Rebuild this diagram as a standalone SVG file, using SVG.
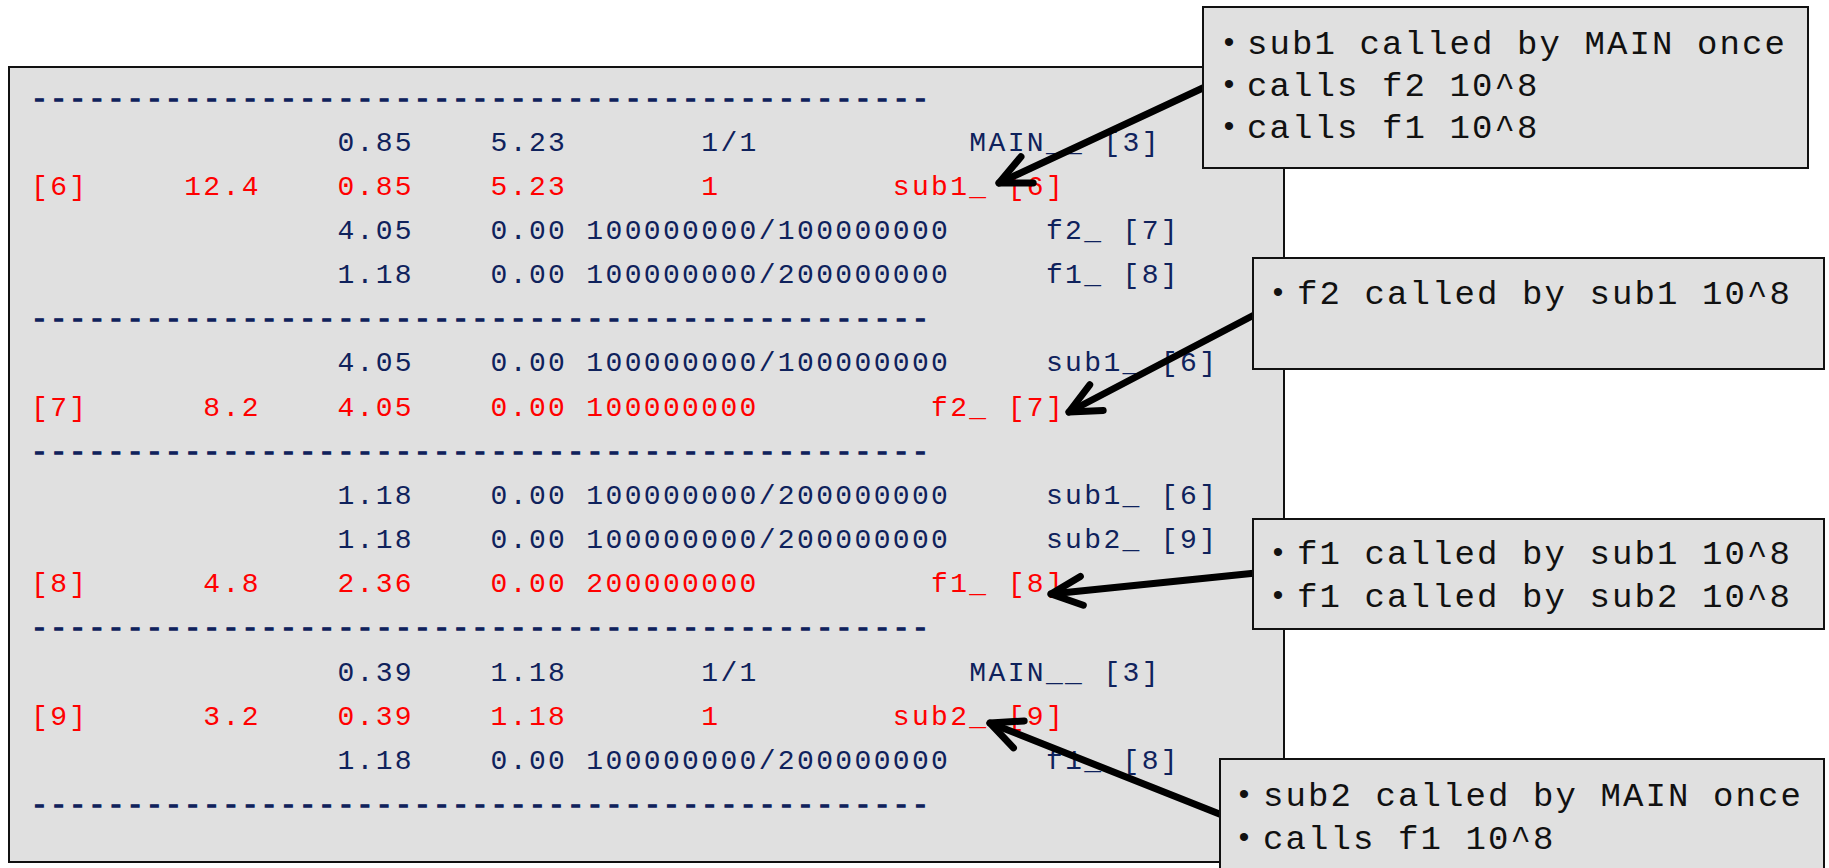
<svg xmlns="http://www.w3.org/2000/svg" width="1829" height="868" viewBox="0 0 1829 868">
  <style>
    .panel { fill: #e0e0e0; stroke: #111; stroke-width: 2; }
    .mono { font-family: "Liberation Mono", "DejaVu Sans Mono", monospace; font-size: 28px; letter-spacing: 2.35px; }
    .nv { fill: #0f225c; }
    .rd { fill: #ff0000; }
    .rule { stroke: #0f225c; stroke-width: 1.3px; }
    .note { font-family: "Liberation Mono", "DejaVu Sans Mono", monospace; font-size: 34px; letter-spacing: 2.1px; fill: #111; }
    .bul { font-family: "Liberation Sans", Arial, sans-serif; font-size: 30px; fill: #111; text-anchor: middle; }
    .arrow { fill: none; stroke: #000; stroke-width: 7; stroke-linecap: round; stroke-linejoin: round; }
  </style>
  <defs>
    <marker id="chevron" markerUnits="userSpaceOnUse" orient="auto" refX="0" refY="0" markerWidth="80" markerHeight="80" viewBox="-40 -40 80 80" overflow="visible">
      <path d="M-31,-14.5 L0,0 L-31,14.5" fill="none" stroke="#000" stroke-width="7" stroke-linecap="round" stroke-linejoin="round"/>
    </marker>
  </defs>

  <rect width="1829" height="868" fill="#fff"/>

  <!-- gprof call-graph listing; columns at x = 31 + 19.15 * col -->
  <g id="callgraph">
    <rect class="panel" x="9" y="67" width="1275" height="795"/>
    <g class="mono">
      <text class="nv rule" x="31" y="106.5">-----------------------------------------------</text>

      <text class="nv" y="150.6"><tspan x="337.4">0.85</tspan><tspan x="490.6">5.23</tspan><tspan x="701.25">1/1</tspan><tspan x="969.35">MAIN__</tspan><tspan x="1103.4">[3]</tspan></text>
      <text class="rd" y="194.8"><tspan x="31">[6]</tspan><tspan x="184.2">12.4</tspan><tspan x="337.4">0.85</tspan><tspan x="490.6">5.23</tspan><tspan x="701.25">1</tspan><tspan x="892.75">sub1_</tspan><tspan x="1007.65">[6]</tspan></text>
      <text class="nv" y="239"><tspan x="337.4">4.05</tspan><tspan x="490.6">0.00</tspan><tspan x="586.35">100000000/100000000</tspan><tspan x="1045.95">f2_</tspan><tspan x="1122.55">[7]</tspan></text>
      <text class="nv" y="283.1"><tspan x="337.4">1.18</tspan><tspan x="490.6">0.00</tspan><tspan x="586.35">100000000/200000000</tspan><tspan x="1045.95">f1_</tspan><tspan x="1122.55">[8]</tspan></text>

      <text class="nv rule" x="31" y="327.3">-----------------------------------------------</text>

      <text class="nv" y="371.4"><tspan x="337.4">4.05</tspan><tspan x="490.6">0.00</tspan><tspan x="586.35">100000000/100000000</tspan><tspan x="1045.95">sub1_</tspan><tspan x="1160.85">[6]</tspan></text>
      <text class="rd" y="415.6"><tspan x="31">[7]</tspan><tspan x="203.35">8.2</tspan><tspan x="337.4">4.05</tspan><tspan x="490.6">0.00</tspan><tspan x="586.35">100000000</tspan><tspan x="931.05">f2_</tspan><tspan x="1007.65">[7]</tspan></text>

      <text class="nv rule" x="31" y="459.7">-----------------------------------------------</text>

      <text class="nv" y="503.9"><tspan x="337.4">1.18</tspan><tspan x="490.6">0.00</tspan><tspan x="586.35">100000000/200000000</tspan><tspan x="1045.95">sub1_</tspan><tspan x="1160.85">[6]</tspan></text>
      <text class="nv" y="548"><tspan x="337.4">1.18</tspan><tspan x="490.6">0.00</tspan><tspan x="586.35">100000000/200000000</tspan><tspan x="1045.95">sub2_</tspan><tspan x="1160.85">[9]</tspan></text>
      <text class="rd" y="592.2"><tspan x="31">[8]</tspan><tspan x="203.35">4.8</tspan><tspan x="337.4">2.36</tspan><tspan x="490.6">0.00</tspan><tspan x="586.35">200000000</tspan><tspan x="931.05">f1_</tspan><tspan x="1007.65">[8]</tspan></text>

      <text class="nv rule" x="31" y="636.3">-----------------------------------------------</text>

      <text class="nv" y="680.5"><tspan x="337.4">0.39</tspan><tspan x="490.6">1.18</tspan><tspan x="701.25">1/1</tspan><tspan x="969.35">MAIN__</tspan><tspan x="1103.4">[3]</tspan></text>
      <text class="rd" y="724.6"><tspan x="31">[9]</tspan><tspan x="203.35">3.2</tspan><tspan x="337.4">0.39</tspan><tspan x="490.6">1.18</tspan><tspan x="701.25">1</tspan><tspan x="892.75">sub2_</tspan><tspan x="1007.65">[9]</tspan></text>
      <text class="nv" y="768.8"><tspan x="337.4">1.18</tspan><tspan x="490.6">0.00</tspan><tspan x="586.35">100000000/200000000</tspan><tspan x="1045.95">f1_</tspan><tspan x="1122.55">[8]</tspan></text>

      <text class="nv rule" x="31" y="812.9">-----------------------------------------------</text>
    </g>
  </g>

  <!-- pointers from the notes to the listing -->
  <g id="connectors">
    <line class="arrow" x1="1205" y1="87" x2="999" y2="183" marker-end="url(#chevron)"/>
    <line class="arrow" x1="1256" y1="314" x2="1069" y2="412" marker-end="url(#chevron)"/>
    <line class="arrow" x1="1256" y1="573" x2="1051" y2="594" marker-end="url(#chevron)"/>
    <line class="arrow" x1="1222" y1="815" x2="990" y2="723" marker-end="url(#chevron)"/>
  </g>

  <g id="note-sub1">
    <rect class="panel" x="1203" y="7" width="605" height="161"/>
    <text class="bul" x="1229" y="52">•</text>
    <text class="bul" x="1229" y="94">•</text>
    <text class="bul" x="1229" y="136">•</text>
    <text class="note" x="1247" y="54">sub1 called by MAIN once</text>
    <text class="note" x="1247" y="96">calls f2 10^8</text>
    <text class="note" x="1247" y="138">calls f1 10^8</text>
  </g>

  <g id="note-f2">
    <rect class="panel" x="1253" y="258" width="571" height="111"/>
    <text class="bul" x="1278" y="302">•</text>
    <text class="note" x="1297" y="304">f2 called by sub1 10^8</text>
  </g>

  <g id="note-f1">
    <rect class="panel" x="1253" y="519" width="571" height="110"/>
    <text class="bul" x="1278" y="562">•</text>
    <text class="bul" x="1278" y="605">•</text>
    <text class="note" x="1297" y="564">f1 called by sub1 10^8</text>
    <text class="note" x="1297" y="607">f1 called by sub2 10^8</text>
  </g>

  <g id="note-sub2">
    <rect class="panel" x="1220" y="759" width="604" height="130"/>
    <text class="bul" x="1244" y="804">•</text>
    <text class="bul" x="1244" y="847">•</text>
    <text class="note" x="1263" y="806">sub2 called by MAIN once</text>
    <text class="note" x="1263" y="849">calls f1 10^8</text>
  </g>
</svg>
